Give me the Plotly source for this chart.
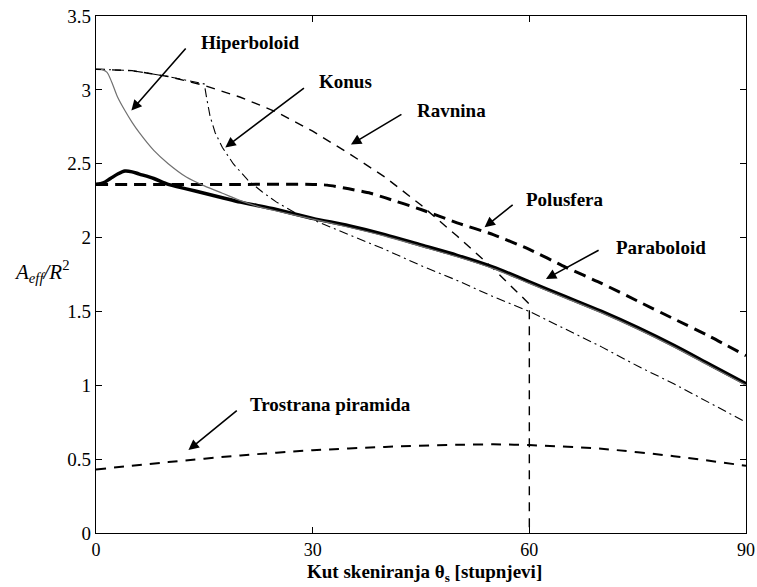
import plotly.graph_objects as go

# ---------------- data ----------------
theta_paraboloid = [0, 1, 2, 3, 4, 5, 6, 8, 10, 12.5, 15, 17.5, 20, 25, 30, 35, 40, 45, 50, 55, 60, 65, 70, 75, 80, 85, 90]
a_paraboloid = [2.36, 2.37, 2.40, 2.43, 2.45, 2.445, 2.43, 2.40, 2.36, 2.33, 2.30, 2.27, 2.24, 2.19, 2.13, 2.08, 2.02, 1.95, 1.88, 1.80, 1.70, 1.60, 1.50, 1.39, 1.27, 1.14, 1.01]

theta_hiperboloid = [0.7, 1.5, 2.2, 3, 4, 5, 6, 8, 10, 12.5, 15, 17.5, 20, 22.5, 25, 30, 35, 40, 45, 50, 55, 60, 65, 70, 75, 80, 85, 90]
a_hiperboloid = [3.14, 3.12, 3.05, 2.95, 2.86, 2.78, 2.71, 2.59, 2.50, 2.41, 2.35, 2.30, 2.25, 2.21, 2.18, 2.125, 2.07, 2.01, 1.94, 1.87, 1.79, 1.69, 1.59, 1.49, 1.38, 1.26, 1.13, 1.00]

theta_konus = [0, 5, 10, 15, 15.3, 15.8, 16.5, 17.5, 19, 21, 23, 25, 27.5, 30, 35, 40, 45, 50, 55, 60, 65, 70, 75, 80, 85, 90]
a_konus = [3.14, 3.13, 3.09, 3.04, 2.95, 2.82, 2.71, 2.61, 2.50, 2.39, 2.31, 2.24, 2.17, 2.12, 2.02, 1.92, 1.81, 1.71, 1.60, 1.50, 1.38, 1.26, 1.13, 1.01, 0.88, 0.75]

theta_ravnina = [0, 5, 10, 15, 20, 25, 30, 35, 40, 45, 50, 55, 60, 60]
a_ravnina = [3.14, 3.13, 3.09, 3.03, 2.95, 2.85, 2.72, 2.57, 2.41, 2.22, 2.01, 1.79, 1.55, 0.0]

theta_polusfera = [0, 10, 20, 30, 32, 35, 38, 40, 45, 50, 55, 60, 65, 70, 75, 80, 85, 90]
a_polusfera = [2.36, 2.36, 2.36, 2.36, 2.355, 2.33, 2.30, 2.27, 2.19, 2.10, 2.02, 1.92, 1.80, 1.69, 1.57, 1.45, 1.33, 1.20]

theta_piramida = [0, 10, 20, 30, 40, 50, 55, 60, 70, 80, 90]
a_piramida = [0.43, 0.48, 0.525, 0.56, 0.583, 0.597, 0.60, 0.595, 0.57, 0.52, 0.455]

x_ticks = [0, 30, 60, 90]
y_ticks = [0, 0.5, 1, 1.5, 2, 2.5, 3, 3.5]
y_ticktext = ["0", "0.5", "1", "1.5", "2", "2.5", "3", "3.5"]

# labels: (text, text_x, text_y, arrow_tail_x, arrow_tail_y, arrow_head_x, arrow_head_y)
labels = [
    ("Hiperboloid", 14.2, 3.32, 12.6, 3.29, 4.9, 2.86),
    ("Konus", 30.6, 3.056, 29.0, 3.02, 17.9, 2.61),
    ("Ravnina", 44.1, 2.86, 42.5, 2.84, 35.3, 2.63),
    ("Polusfera", 59.3, 2.255, 57.9, 2.23, 53.8, 2.07),
    ("Paraboloid", 71.7, 1.934, 69.8, 1.92, 62.3, 1.72),
    ("Trostrana piramida", 21.0, 0.867, 19.7, 0.837, 12.8, 0.562),
]

FONT = "Liberation Serif"

fig = go.Figure()
fig.add_trace(go.Scatter(x=theta_piramida, y=a_piramida, mode="lines",
                         line=dict(color="black", width=2, dash="10px,8px", shape="spline", smoothing=0.8)))
fig.add_trace(go.Scatter(x=theta_ravnina, y=a_ravnina, mode="lines",
                         line=dict(color="black", width=1.4, dash="9px,7px")))
fig.add_trace(go.Scatter(x=theta_konus, y=a_konus, mode="lines",
                         line=dict(color="black", width=1.1, dash="9px,4px,2px,4px")))
fig.add_trace(go.Scatter(x=theta_polusfera, y=a_polusfera, mode="lines",
                         line=dict(color="black", width=3, dash="12px,7px", shape="spline", smoothing=0.6)))
fig.add_trace(go.Scatter(x=theta_paraboloid, y=a_paraboloid, mode="lines",
                         line=dict(color="black", width=3.5, shape="spline", smoothing=0.8)))
fig.add_trace(go.Scatter(x=theta_hiperboloid, y=a_hiperboloid, mode="lines",
                         line=dict(color="#707070", width=1.2, shape="spline", smoothing=0.8)))

annotations = []
for text, tx, ty, ax, ay, hx, hy in labels:
    annotations.append(dict(x=tx, y=ty, xref="x", yref="y", text="<b>" + text + "</b>",
                            showarrow=False, xanchor="left", yanchor="middle",
                            font=dict(family=FONT, size=19, color="black")))
    annotations.append(dict(x=hx, y=hy, ax=ax, ay=ay, xref="x", yref="y", axref="x", ayref="y",
                            text="", showarrow=True, arrowhead=2, arrowsize=1.3, arrowwidth=1.6,
                            arrowcolor="black", standoff=0, startstandoff=0))

annotations.append(dict(x=0.506, y=-0.0774, xref="paper", yref="paper",
                        text="<b>Kut skeniranja θ<sub>s</sub> [stupnjevi]</b>",
                        showarrow=False, xanchor="center", yanchor="middle",
                        font=dict(family=FONT, size=19, color="black")))
annotations.append(dict(x=-0.083, y=0.505, xref="paper", yref="paper",
                        text="<i>A</i><sub><i>eff</i></sub><i>/R</i><sup>2</sup>",
                        showarrow=False, xanchor="center", yanchor="middle",
                        font=dict(family=FONT, size=21, color="black")))

fig.update_layout(
    width=757, height=587, autosize=False,
    margin=dict(l=96, r=11, t=16, b=54),
    paper_bgcolor="white", plot_bgcolor="white",
    showlegend=False,
    font=dict(family=FONT, color="black"),
    annotations=annotations,
    xaxis=dict(range=[0, 90], tickvals=x_ticks, ticks="inside", ticklen=6, tickcolor="black",
               mirror="allticks", showline=True, linecolor="black", linewidth=1.2,
               showgrid=False, zeroline=False, ticklabeloverflow="allow", automargin=False,
               tickfont=dict(family=FONT, size=18, color="black")),
    yaxis=dict(range=[0, 3.5], tickvals=y_ticks, ticktext=y_ticktext, ticks="inside", ticklen=6,
               tickcolor="black", mirror="allticks", showline=True, linecolor="black", linewidth=1.2,
               showgrid=False, zeroline=False, ticklabeloverflow="allow", automargin=False,
               tickfont=dict(family=FONT, size=19, color="black")),
)

# remove the default 8px page margin so the 757x587 figure fills the window exactly
fig.write_html("out.html", config={"responsive": False, "displayModeBar": False},
               post_script="document.body.style.margin='0';document.body.style.overflow='hidden';")
